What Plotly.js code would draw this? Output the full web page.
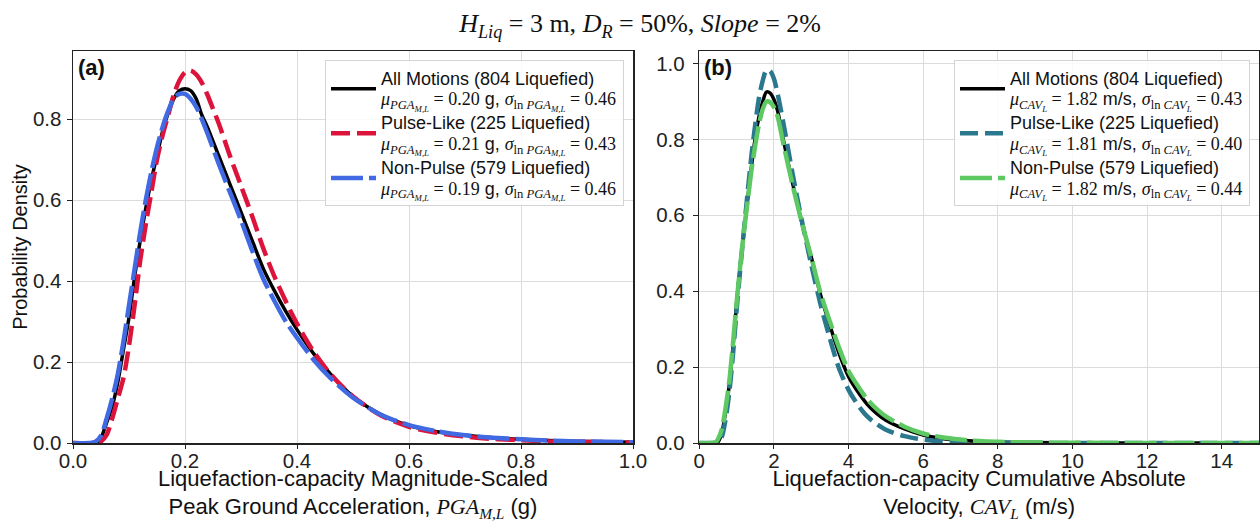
<!DOCTYPE html>
<html>
<head>
<meta charset="utf-8">
<script src="https://cdn.plot.ly/plotly-3.0.1.min.js"></script>
<style>html,body{margin:0;padding:0;background:#fff}#chart{width:1260px;height:522px}</style>
</head>
<body>
<div id="chart"></div>
<script>
// ---- Panel (a): PGA_M,L probability density ----
var pgaAllX = [0, 0.03, 0.04, 0.045, 0.05, 0.055, 0.06, 0.07, 0.08, 0.09, 0.10, 0.11, 0.12, 0.13, 0.14, 0.15, 0.16, 0.17, 0.18, 0.19, 0.20, 0.21, 0.22, 0.23, 0.24, 0.26, 0.28, 0.30, 0.32, 0.34, 0.36, 0.38, 0.40, 0.43, 0.46, 0.50, 0.55, 0.60, 0.65, 0.70, 0.75, 0.80, 0.85, 0.90, 0.95, 1.0];
var pgaAllY = [0, 0, 0.0, 0.003, 0.012, 0.03, 0.05, 0.09, 0.15, 0.23, 0.31, 0.41, 0.50, 0.58, 0.65, 0.71, 0.77, 0.815, 0.85, 0.87, 0.875, 0.87, 0.85, 0.81, 0.78, 0.71, 0.64, 0.57, 0.50, 0.43, 0.375, 0.325, 0.28, 0.22, 0.17, 0.115, 0.07, 0.043, 0.028, 0.019, 0.013, 0.009, 0.006, 0.004, 0.003, 0.002];

var pgaPulseX = [0, 0.04, 0.05, 0.06, 0.07, 0.08, 0.09, 0.10, 0.11, 0.12, 0.13, 0.14, 0.15, 0.16, 0.17, 0.18, 0.19, 0.20, 0.21, 0.22, 0.23, 0.24, 0.25, 0.26, 0.28, 0.30, 0.32, 0.34, 0.36, 0.38, 0.40, 0.43, 0.46, 0.50, 0.55, 0.60, 0.65, 0.70, 0.75, 0.80, 0.85, 0.90, 0.95, 1.0];
var pgaPulseY = [0, 0, 0.004, 0.02, 0.06, 0.11, 0.16, 0.24, 0.34, 0.45, 0.54, 0.62, 0.70, 0.76, 0.81, 0.86, 0.895, 0.915, 0.92, 0.91, 0.89, 0.86, 0.825, 0.79, 0.71, 0.635, 0.56, 0.48, 0.41, 0.35, 0.295, 0.225, 0.17, 0.115, 0.068, 0.04, 0.025, 0.016, 0.01, 0.007, 0.004, 0.003, 0.002, 0.001];

var pgaNonX = [0, 0.03, 0.04, 0.05, 0.06, 0.07, 0.08, 0.09, 0.10, 0.11, 0.12, 0.13, 0.14, 0.15, 0.16, 0.17, 0.18, 0.19, 0.20, 0.21, 0.22, 0.23, 0.24, 0.26, 0.28, 0.30, 0.32, 0.34, 0.36, 0.38, 0.40, 0.43, 0.46, 0.50, 0.55, 0.60, 0.65, 0.70, 0.75, 0.80, 0.85, 0.90, 0.95, 1.0];
var pgaNonY = [0, 0, 0.003, 0.018, 0.06, 0.11, 0.17, 0.25, 0.34, 0.43, 0.52, 0.60, 0.67, 0.73, 0.78, 0.82, 0.85, 0.862, 0.862, 0.85, 0.83, 0.80, 0.765, 0.69, 0.62, 0.55, 0.475, 0.405, 0.35, 0.30, 0.26, 0.205, 0.16, 0.112, 0.07, 0.044, 0.029, 0.019, 0.013, 0.009, 0.006, 0.004, 0.003, 0.002];

// ---- Panel (b): CAV_L probability density ----
var cavAllX = [0, 0.4, 0.5, 0.6, 0.7, 0.8, 0.9, 1.0, 1.1, 1.2, 1.3, 1.4, 1.5, 1.6, 1.7, 1.8, 1.9, 2.0, 2.1, 2.25, 2.5, 2.75, 3.0, 3.25, 3.5, 3.75, 4.0, 4.25, 4.5, 4.75, 5.0, 5.5, 6.0, 6.5, 7.0, 7.5, 8.0, 9.0, 10.0, 12.0, 15.0];
var cavAllY = [0, 0, 0.003, 0.025, 0.08, 0.15, 0.25, 0.37, 0.47, 0.56, 0.645, 0.73, 0.805, 0.86, 0.90, 0.925, 0.922, 0.905, 0.875, 0.80, 0.685, 0.58, 0.49, 0.39, 0.31, 0.235, 0.175, 0.135, 0.102, 0.078, 0.06, 0.037, 0.021, 0.012, 0.007, 0.004, 0.0025, 0.001, 0.0005, 0.0001, 0];

var cavPulseX = [0, 0.4, 0.5, 0.6, 0.7, 0.8, 0.9, 1.0, 1.1, 1.2, 1.3, 1.4, 1.5, 1.6, 1.7, 1.8, 1.9, 2.0, 2.1, 2.25, 2.5, 2.75, 3.0, 3.25, 3.5, 3.75, 4.0, 4.25, 4.5, 4.75, 5.0, 5.5, 6.0, 6.5, 7.0, 8.0, 10.0, 15.0];
var cavPulseY = [0, 0, 0.001, 0.015, 0.06, 0.13, 0.23, 0.35, 0.46, 0.565, 0.665, 0.76, 0.84, 0.91, 0.955, 0.983, 0.98, 0.96, 0.92, 0.845, 0.71, 0.585, 0.47, 0.365, 0.275, 0.195, 0.14, 0.10, 0.07, 0.05, 0.035, 0.018, 0.009, 0.004, 0.002, 0.0005, 0, 0];

var cavNonX = [0, 0.35, 0.45, 0.5, 0.6, 0.7, 0.8, 0.9, 1.0, 1.1, 1.2, 1.3, 1.4, 1.5, 1.6, 1.7, 1.8, 1.9, 2.0, 2.1, 2.25, 2.5, 2.75, 3.0, 3.25, 3.5, 3.75, 4.0, 4.25, 4.5, 4.75, 5.0, 5.5, 6.0, 6.5, 7.0, 7.5, 8.0, 9.0, 10.0, 12.0, 15.0];
var cavNonY = [0, 0, 0.003, 0.01, 0.035, 0.09, 0.16, 0.26, 0.37, 0.47, 0.56, 0.64, 0.72, 0.785, 0.84, 0.88, 0.90, 0.898, 0.885, 0.86, 0.79, 0.68, 0.58, 0.49, 0.395, 0.32, 0.25, 0.19, 0.15, 0.115, 0.09, 0.07, 0.043, 0.025, 0.015, 0.009, 0.005, 0.003, 0.0013, 0.0006, 0.0001, 0];

var xTicksA = [0, 0.2, 0.4, 0.6, 0.8, 1.0];
var xTicksB = [0, 2, 4, 6, 8, 10, 12, 14];

var SERIF = "Liberation Serif";
function big(s){ return '<span style="font-size:18px">' + s + '</span>'; }
function mth(s){ return '<span style="font-family:Liberation Serif;font-size:18px">' + s + '</span>'; }
var pgaSub = '<sub><i>PGA</i><sub><i>M,L</i></sub></sub>';
var pgaLnSub = '<sub>ln <i>PGA</i><sub><i>M,L</i></sub></sub>';
var cavSub = '<sub><i>CAV</i><sub><i>L</i></sub></sub>';
var cavLnSub = '<sub>ln <i>CAV</i><sub><i>L</i></sub></sub>';

var namesA = [
  big('All Motions (804 Liquefied)') + '<br>' + mth('<i>μ</i>' + pgaSub + ' = 0.20') + big(' g, ') + mth('<i>σ</i>' + pgaLnSub + ' = 0.46'),
  big('Pulse-Like (225 Liquefied)') + '<br>' + mth('<i>μ</i>' + pgaSub + ' = 0.21') + big(' g, ') + mth('<i>σ</i>' + pgaLnSub + ' = 0.43'),
  big('Non-Pulse (579 Liquefied)') + '<br>' + mth('<i>μ</i>' + pgaSub + ' = 0.19') + big(' g, ') + mth('<i>σ</i>' + pgaLnSub + ' = 0.46')
];
var namesB = [
  big('All Motions (804 Liquefied)') + '<br>' + mth('<i>μ</i>' + cavSub + ' = 1.82') + big(' m/s, ') + mth('<i>σ</i>' + cavLnSub + ' = 0.43'),
  big('Pulse-Like (225 Liquefied)') + '<br>' + mth('<i>μ</i>' + cavSub + ' = 1.81') + big(' m/s, ') + mth('<i>σ</i>' + cavLnSub + ' = 0.40'),
  big('Non-Pulse (579 Liquefied)') + '<br>' + mth('<i>μ</i>' + cavSub + ' = 1.82') + big(' m/s, ') + mth('<i>σ</i>' + cavLnSub + ' = 0.44')
];

function tr(x, y, name, color, width, dash, xa, ya, leg){
  return {x: x, y: y, name: name, type: 'scatter', mode: 'lines',
    line: {color: color, width: width, dash: dash, shape: 'spline', smoothing: 0.8},
    xaxis: xa, yaxis: ya, legend: leg, hoverinfo: 'skip'};
}

var data = [
  tr(pgaAllX, pgaAllY, namesA[0], '#000000', 3.5, 'solid', 'x', 'y', 'legend'),
  tr(pgaPulseX, pgaPulseY, namesA[1], '#DC143C', 4.5, '19px,7px', 'x', 'y', 'legend'),
  tr(pgaNonX, pgaNonY, namesA[2], '#4169E1', 4.5, '32px,6px', 'x', 'y', 'legend'),
  tr(cavAllX, cavAllY, namesB[0], '#000000', 3.5, 'solid', 'x2', 'y2', 'legend2'),
  tr(cavPulseX, cavPulseY, namesB[1], '#2a788e', 4.5, '18px,7px', 'x2', 'y2', 'legend2'),
  tr(cavNonX, cavNonY, namesB[2], '#5ec962', 4.5, '32px,6px', 'x2', 'y2', 'legend2')
];

var FONT = 'Liberation Sans, Arial, sans-serif';
var axBase = {showline: true, mirror: true, linecolor: '#222', linewidth: 1.5,
  showgrid: true, gridcolor: '#dcdcdc', gridwidth: 1, zeroline: false,
  ticks: 'outside', ticklen: 4, tickwidth: 1, tickcolor: '#222',
  tickfont: {family: FONT, size: 20.5, color: '#222'}};
function ax(extra){ var o = {}; for (var k in axBase) o[k] = axBase[k]; for (var k2 in extra) o[k2] = extra[k2]; return o; }

var legBase = {bgcolor: 'rgba(255,255,255,0.85)', bordercolor: '#d4d4d4', borderwidth: 1,
  font: {family: FONT, size: 16, color: '#111'}, xanchor: 'right', yanchor: 'top', valign: 'middle',
  itemwidth: 45};

var layout = {
  width: 1260, height: 522,
  margin: {l: 73, r: 1, t: 51, b: 79, pad: 0},
  paper_bgcolor: '#ffffff', plot_bgcolor: '#ffffff',
  showlegend: true,
  title: {text: '<i>H</i><sub><i>Liq</i></sub> = 3 m, <i>D</i><sub><i>R</i></sub> = 50%, <i>Slope</i> = 2%',
    font: {family: SERIF, size: 26, color: '#111'}, x: 0.508, xref: 'container', xanchor: 'center', y: 0.956, yref: 'container', yanchor: 'middle'},
  xaxis: ax({domain: [0, 0.47218], range: [0, 1.0], tickvals: xTicksA, tickformat: '.1f', anchor: 'y', ticklabelstandoff: -5,
    title: {text: 'Liquefaction-capacity Magnitude-Scaled<br>Peak Ground Acceleration, <span style="font-family:Liberation Serif"><i>PGA</i><sub><i>M,L</i></sub></span> (g)',
      font: {family: FONT, size: 22, color: '#111'}, standoff: 12}}),
  yaxis: ax({domain: [0, 1], range: [0, 0.968], dtick: 0.2, tickformat: '.1f', anchor: 'x', ticklen: 5, ticklabelstandoff: 1,
    title: {text: 'Probability Density', font: {family: FONT, size: 20, color: '#111'}, standoff: 0}}),
  xaxis2: ax({domain: [0.52808, 1], range: [0, 15], tickvals: xTicksB, anchor: 'y2', ticklabelstandoff: -5,
    title: {text: 'Liquefaction-capacity Cumulative Absolute<br>Velocity, <span style="font-family:Liberation Serif"><i>CAV</i><sub><i>L</i></sub></span> (m/s)',
      font: {family: FONT, size: 22, color: '#111'}, standoff: 12}}),
  yaxis2: ax({domain: [0, 1], range: [0, 1.033], dtick: 0.2, tickformat: '.1f', anchor: 'x2', ticklen: 5, ticklabelstandoff: 4}),
  legend: Object.assign({}, legBase, {x: 0.4646, y: 0.976, xref: 'paper', yref: 'paper'}),
  legend2: Object.assign({}, legBase, {x: 0.9924, y: 0.976, xref: 'paper', yref: 'paper'}),
  annotations: [
    {text: '<b>(a)</b>', xref: 'x domain', yref: 'y domain', x: 0.005, y: 0.995, xanchor: 'left', yanchor: 'top', showarrow: false, font: {family: FONT, size: 22, color: '#111'}},
    {text: '<b>(b)</b>', xref: 'x2 domain', yref: 'y2 domain', x: 0.005, y: 0.995, xanchor: 'left', yanchor: 'top', showarrow: false, font: {family: FONT, size: 22, color: '#111'}}
  ]
};

Plotly.newPlot('chart', data, layout, {staticPlot: true, displayModeBar: false});
</script>
</body>
</html>
